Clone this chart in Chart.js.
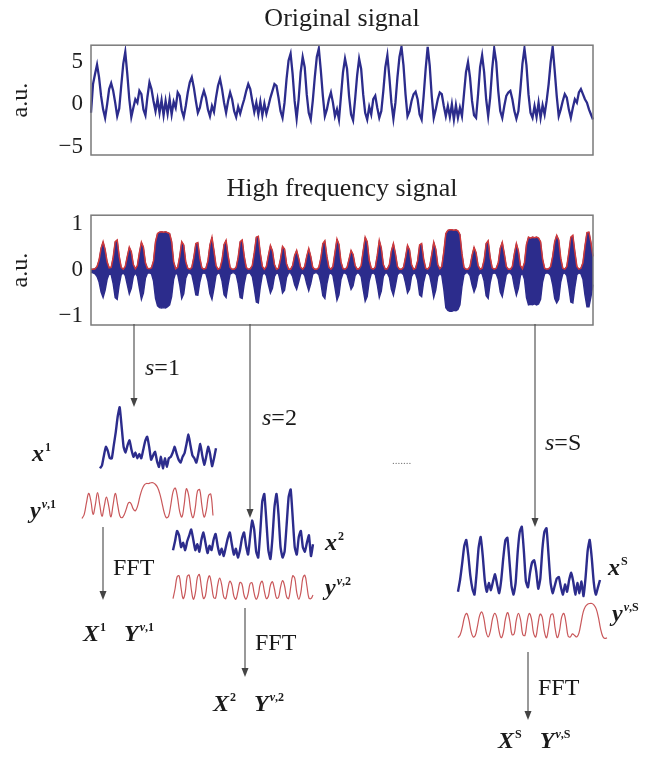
<!DOCTYPE html>
<html><head><meta charset="utf-8">
<script src="https://cdn.jsdelivr.net/npm/chart.js@4.4.1/dist/chart.umd.min.js"></script>
<style>
html,body{margin:0;padding:0;background:#fff;overflow:hidden;}
#root{position:relative;width:652px;height:760px;background:#fff;overflow:hidden;}
.box{position:absolute;}
.lbl{position:absolute;font-family:'Liberation Serif','Times New Roman',serif;color:#1a1a1a;white-space:nowrap;line-height:1;transform:translateY(-50%);font-size:24px;}
.m{font-weight:bold;font-style:italic;}
.lbl sup{font-size:12px;vertical-align:0;position:relative;top:-0.8em;margin-left:1px;font-weight:bold;}
.dots{position:absolute;font-family:'Liberation Serif',serif;font-size:11px;color:#777;transform:translateY(-50%);letter-spacing:0px;}
svg{position:absolute;left:0;top:0;}
</style></head><body>
<div id="root">
  <div class="box" style="left:0;top:0;width:652px;height:170px"><canvas id="c1"></canvas></div>
  <div class="box" style="left:0;top:170px;width:652px;height:170px"><canvas id="c2"></canvas></div>
  <div class="box" style="left:97px;top:402px;width:122px;height:78px"><canvas id="sx1"></canvas></div>
  <div class="box" style="left:79px;top:479px;width:137px;height:44px"><canvas id="sy1"></canvas></div>
  <div class="box" style="left:170px;top:485px;width:146px;height:80px"><canvas id="sx2"></canvas></div>
  <div class="box" style="left:170px;top:568px;width:146px;height:36px"><canvas id="sy2"></canvas></div>
  <div class="box" style="left:455px;top:523px;width:148px;height:79px"><canvas id="sxS"></canvas></div>
  <div class="box" style="left:455px;top:599px;width:155px;height:44px"><canvas id="syS"></canvas></div>

  <svg width="652" height="760" viewBox="0 0 652 760">
    <g stroke="#555" stroke-width="1.2">
      <line x1="134" y1="324" x2="134" y2="399"/>
      <line x1="250" y1="324" x2="250" y2="510"/>
      <line x1="535" y1="324" x2="535" y2="519"/>
      <line x1="103" y1="527" x2="103" y2="592"/>
      <line x1="245" y1="608" x2="245" y2="669"/>
      <line x1="528" y1="652" x2="528" y2="712"/>
    </g>
    <g fill="#444">
      <polygon points="130.5,398 137.5,398 134,407"/>
      <polygon points="246.5,509 253.5,509 250,518"/>
      <polygon points="531.5,518 538.5,518 535,527"/>
      <polygon points="99.5,591 106.5,591 103,600"/>
      <polygon points="241.5,668 248.5,668 245,677"/>
      <polygon points="524.5,711 531.5,711 528,720"/>
    </g>
  </svg>

  <div class="lbl" style="left:145px;top:367px"><i>s</i>=1</div>
  <div class="lbl" style="left:262px;top:417px"><i>s</i>=2</div>
  <div class="lbl" style="left:545px;top:442px"><i>s</i>=S</div>
  <div class="dots" style="left:392px;top:460px">.......</div>

  <div class="lbl" style="left:32px;top:453px"><span class="m">x</span><sup>1</sup></div>
  <div class="lbl" style="left:30px;top:510px"><span class="m">y</span><sup><i>v</i>,1</sup></div>
  <div class="lbl" style="left:325px;top:542px"><span class="m">x</span><sup>2</sup></div>
  <div class="lbl" style="left:325px;top:587px"><span class="m">y</span><sup><i>v</i>,2</sup></div>
  <div class="lbl" style="left:608px;top:567px"><span class="m">x</span><sup>S</sup></div>
  <div class="lbl" style="left:612px;top:613px"><span class="m">y</span><sup><i>v</i>,S</sup></div>

  <div class="lbl" style="left:113px;top:567px">FFT</div>
  <div class="lbl" style="left:255px;top:642px">FFT</div>
  <div class="lbl" style="left:538px;top:687px">FFT</div>

  <div class="lbl" style="left:83px;top:633px"><span class="m">X</span><sup>1</sup>&nbsp;&nbsp;&nbsp;<span class="m">Y</span><sup><i>v</i>,1</sup></div>
  <div class="lbl" style="left:213px;top:703px"><span class="m">X</span><sup>2</sup>&nbsp;&nbsp;&nbsp;<span class="m">Y</span><sup><i>v</i>,2</sup></div>
  <div class="lbl" style="left:498px;top:740px"><span class="m">X</span><sup>S</sup>&nbsp;&nbsp;&nbsp;<span class="m">Y</span><sup><i>v</i>,S</sup></div>
</div>
<script>
// ---------- data ----------
const originalTitle = 'Original signal';
const highFreqTitle = 'High frequency signal';
const yAxisLabel = 'a.u.';

const origTicks = [-5, 0, 5];
const origTickLabels = ['\u22125', '0', '5'];
const origRange = [-6, 7];

const hfTicks = [-1, 0, 1];
const hfTickLabels = ['\u22121', '0', '1'];
const hfRange = [-1.2, 1.2];

const originalSignal = [
 -1.0, 2.4, 3.6, 4.7, 3.2, 1.0, -0.6, -1.6, 0.0, 1.8,
 2.5, 1.6, 0.2, -1.4, -0.5, 2.2, 4.8, 6.2, 3.6, 0.6,
 -1.5, -0.4, 0.6, 0.2, 1.6, 1.2, -0.6, -1.3, 0.9, 2.6,
 1.8, 0.4, -0.8, 0.6, -1.0, 0.5, -1.3, 0.4, -1.1, 0.6,
 -1.2, 0.3, -0.4, 1.4, 1.0, -0.7, -1.5, -0.2, 1.4, 2.6,
 3.2, 2.0, 0.4, -1.0, -0.4, 0.8, 1.6, 0.8, -0.6, -1.4,
 -0.2, -0.9, 0.8, 2.2, 3.0, 1.8, 0.2, -1.0, 0.4, 1.4,
 0.6, -0.8, -1.5, -0.3, -1.1, -0.2, 0.6, 1.6, 2.4, 1.8,
 0.4, -0.9, 0.2, -1.2, 0.3, -1.3, 0.1, -1.1, -0.2, 0.8,
 1.6, 2.4, 2.2, 0.8, -0.8, -1.6, 0.2, 3.0, 5.2, 6.0,
 3.6, 0.4, -1.7, 0.6, 3.8, 5.6, 4.4, 1.2, -1.0, -1.8,
 0.4, 3.2, 5.6, 6.6, 4.0, 1.0, -1.4, -0.6, 0.6, 1.4,
 0.2, -1.4, -0.6, -1.8, 1.0, 3.8, 5.4, 4.2, 1.0, -1.2,
 -1.9, 0.6, 3.4, 5.4, 4.2, 1.2, -1.0, -1.8, -0.3, -1.2,
 0.6, 1.0, -0.4, -1.6, -0.8, 1.6, 4.4, 5.8, 3.2, 0.2,
 -1.7, 0.2, 3.2, 5.6, 6.8, 4.6, 1.2, -1.4, -0.8, 0.4,
 1.2, 1.5, 0.6, -1.2, -1.8, 1.0, 4.2, 6.8, 4.6, 1.0,
 -1.6, -0.6, 0.6, 1.4, 1.2, -0.2, -1.4, -0.2, -1.5, 0.0,
 -1.8, -0.1, -1.6, -0.4, -1.4, 1.2, 3.8, 5.0, 3.2, 0.4,
 -1.3, -1.6, 1.2, 4.4, 5.8, 3.8, 0.6, -1.4, 0.8, 4.2,
 6.6, 5.0, 1.6, -0.8, -1.6, -0.2, 1.0, 1.4, 1.6, 0.6,
 -0.8, -1.7, -0.8, 1.8, 4.8, 6.6, 4.6, 1.2, -1.0, -1.6,
 -0.2, -1.5, 0.2, -1.6, -0.1, -1.2, 0.4, 2.4, 5.0, 6.8,
 4.0, 1.0, -1.4, -0.6, 0.4, 1.2, 0.8, -0.6, -1.6, -0.4,
 0.6, 0.2, 1.4, 1.8, 1.2, 0.6, 0.2, -0.6, -1.2, -1.8
];

// red envelope (also the top edge of the blue high-frequency band)
const hfEnvelope = [
 0.02,0.02,0.03,0.08,0.22,0.48,0.62,0.45,0.18,0.05,
 0.06,0.28,0.62,0.66,0.30,0.06,0.02,0.08,0.30,0.50,
 0.40,0.12,0.03,0.10,0.38,0.61,0.50,0.16,0.04,0.03,
 0.05,0.20,0.62,0.80,0.83,0.84,0.83,0.84,0.82,0.80,
 0.62,0.18,0.03,0.06,0.30,0.62,0.55,0.18,0.04,0.02,
 0.06,0.28,0.58,0.60,0.26,0.05,0.02,0.04,0.20,0.55,
 0.72,0.42,0.10,0.02,0.04,0.22,0.56,0.65,0.32,0.06,
 0.02,0.02,0.06,0.28,0.62,0.66,0.30,0.06,0.02,0.03,
 0.10,0.38,0.72,0.74,0.36,0.08,0.02,0.08,0.32,0.54,
 0.42,0.12,0.02,0.04,0.24,0.52,0.46,0.14,0.02,0.02,
 0.10,0.32,0.43,0.26,0.06,0.02,0.08,0.30,0.47,0.30,
 0.06,0.02,0.02,0.06,0.26,0.58,0.64,0.30,0.06,0.02,
 0.08,0.38,0.68,0.56,0.18,0.03,0.02,0.06,0.24,0.43,
 0.34,0.10,0.02,0.03,0.10,0.42,0.72,0.62,0.22,0.04,
 0.02,0.06,0.32,0.65,0.48,0.12,0.02,0.03,0.12,0.42,
 0.58,0.36,0.08,0.02,0.02,0.06,0.28,0.54,0.44,0.12,
 0.02,0.04,0.20,0.55,0.58,0.24,0.04,0.02,0.08,0.34,
 0.61,0.46,0.12,0.03,0.08,0.40,0.80,0.87,0.88,0.88,
 0.87,0.88,0.86,0.78,0.36,0.06,0.02,0.02,0.08,0.32,
 0.50,0.38,0.10,0.02,0.04,0.22,0.58,0.64,0.28,0.05,
 0.02,0.04,0.16,0.48,0.61,0.36,0.08,0.02,0.02,0.08,
 0.36,0.58,0.42,0.10,0.03,0.16,0.56,0.72,0.70,0.72,
 0.71,0.72,0.70,0.62,0.24,0.04,0.02,0.03,0.08,0.30,
 0.62,0.76,0.66,0.26,0.04,0.02,0.08,0.38,0.72,0.76,
 0.40,0.08,0.02,0.04,0.16,0.52,0.82,0.83,0.60,0.30
];

// bottom edge of the blue high-frequency band
const hfLower = [
 -0.05,-0.06,-0.08,-0.14,-0.26,-0.48,-0.60,-0.44,-0.20,-0.08,
 -0.10,-0.30,-0.60,-0.64,-0.32,-0.10,-0.06,-0.12,-0.32,-0.52,
 -0.40,-0.14,-0.06,-0.14,-0.40,-0.64,-0.50,-0.18,-0.07,-0.06,
 -0.08,-0.24,-0.62,-0.78,-0.82,-0.83,-0.82,-0.83,-0.80,-0.76,
 -0.58,-0.20,-0.06,-0.10,-0.32,-0.62,-0.52,-0.18,-0.07,-0.06,
 -0.10,-0.30,-0.54,-0.55,-0.26,-0.08,-0.06,-0.08,-0.24,-0.52,
 -0.64,-0.40,-0.12,-0.06,-0.08,-0.24,-0.54,-0.60,-0.32,-0.09,
 -0.06,-0.06,-0.10,-0.30,-0.60,-0.62,-0.30,-0.09,-0.06,-0.07,
 -0.14,-0.40,-0.70,-0.72,-0.36,-0.10,-0.06,-0.12,-0.32,-0.50,
 -0.40,-0.14,-0.06,-0.08,-0.26,-0.50,-0.44,-0.16,-0.06,-0.06,
 -0.14,-0.32,-0.42,-0.26,-0.09,-0.06,-0.12,-0.30,-0.45,-0.30,
 -0.09,-0.06,-0.06,-0.10,-0.28,-0.56,-0.62,-0.30,-0.09,-0.06,
 -0.12,-0.38,-0.66,-0.54,-0.20,-0.07,-0.06,-0.10,-0.26,-0.42,
 -0.34,-0.12,-0.06,-0.07,-0.14,-0.42,-0.68,-0.58,-0.24,-0.08,
 -0.06,-0.10,-0.32,-0.60,-0.46,-0.14,-0.06,-0.07,-0.16,-0.42,
 -0.55,-0.34,-0.10,-0.06,-0.06,-0.10,-0.28,-0.50,-0.42,-0.14,
 -0.06,-0.08,-0.22,-0.54,-0.58,-0.26,-0.08,-0.06,-0.12,-0.34,
 -0.60,-0.44,-0.14,-0.07,-0.12,-0.42,-0.82,-0.88,-0.90,-0.90,
 -0.88,-0.89,-0.86,-0.76,-0.36,-0.10,-0.06,-0.06,-0.12,-0.32,
 -0.48,-0.36,-0.12,-0.06,-0.08,-0.24,-0.56,-0.62,-0.28,-0.08,
 -0.06,-0.08,-0.20,-0.48,-0.58,-0.34,-0.10,-0.06,-0.06,-0.12,
 -0.36,-0.55,-0.40,-0.12,-0.07,-0.20,-0.60,-0.76,-0.75,-0.76,
 -0.74,-0.76,-0.74,-0.64,-0.26,-0.08,-0.06,-0.07,-0.12,-0.32,
 -0.62,-0.72,-0.64,-0.26,-0.08,-0.06,-0.12,-0.38,-0.70,-0.72,
 -0.38,-0.10,-0.06,-0.08,-0.20,-0.54,-0.80,-0.80,-0.58,-0.32
];

// segments (relative units 0..10 inside each small panel)
const x1Segment = [
 1.2,1.6,3.0,4.2,3.6,2.6,2.6,4.4,6.2,8.4,
 9.7,7.0,4.2,3.4,4.4,5.1,3.8,2.8,3.4,2.6,
 3.2,2.6,3.8,5.0,5.6,4.2,2.4,3.0,3.5,2.2,
 1.4,2.8,1.2,2.6,1.4,2.6,2.8,3.4,4.2,3.2,
 2.4,2.0,2.8,3.3,4.6,5.9,4.4,3.0,2.6,2.0,
 3.2,4.6,3.0,1.7,2.8,4.2,3.2,1.5,2.6,4.0
];
const yv1Segment = [
 0.4,1.5,4.5,7.0,5.0,1.5,4.0,7.2,4.0,1.0,
 3.6,6.0,3.8,0.8,4.0,7.0,4.2,1.2,0.6,1.4,
 3.0,4.6,4.4,3.0,2.4,3.6,6.0,8.0,9.2,9.6,
 9.6,9.8,9.8,9.4,8.6,7.0,4.6,2.0,0.6,1.0,
 4.0,7.4,8.4,6.0,2.2,0.8,4.0,8.2,6.6,2.4,
 0.6,3.2,7.6,8.0,3.8,0.8,2.6,6.4,6.8,1.2
];
const x2Segment = [
 1.6,2.8,4.2,3.6,2.0,2.6,1.6,2.8,3.6,4.4,
 3.0,1.6,2.4,1.4,3.0,4.0,2.6,1.2,2.2,1.6,
 3.0,3.8,2.2,1.0,1.8,0.8,2.0,3.2,4.0,2.4,
 1.0,1.8,0.6,1.6,3.2,4.0,2.2,1.0,3.4,5.6,
 4.4,1.4,0.6,4.0,8.2,9.2,5.6,1.6,0.4,3.2,
 7.4,9.2,6.4,2.0,0.6,1.4,5.0,8.8,9.8,6.0,
 2.0,1.0,3.4,4.2,2.0,1.4,2.6,3.6,0.8,2.4
];
const yv2Segment = [
 0.8,4.0,8.0,8.4,4.2,0.8,2.8,8.2,8.6,4.0,
 0.6,2.6,7.8,8.8,4.6,0.8,1.8,6.6,8.4,5.4,
 1.2,1.0,5.2,7.6,5.4,1.4,0.8,4.0,6.6,5.4,
 1.6,0.6,3.2,6.2,5.6,2.0,0.6,2.4,5.8,6.0,
 2.6,0.6,2.0,5.6,6.6,3.4,0.8,1.6,5.2,6.4,
 4.0,1.0,1.2,4.6,6.8,5.0,1.4,0.8,4.6,8.4,
 7.6,2.8,0.6,2.8,7.6,8.6,5.0,1.0,0.8,2.0
];
const xSSegment = [
 1.0,2.6,4.8,7.2,8.1,6.0,3.2,1.4,0.6,3.4,
 7.0,8.5,6.0,2.6,1.0,2.2,1.2,2.4,3.4,2.0,
 0.8,2.6,5.6,8.0,8.4,5.2,1.8,0.6,2.2,6.4,
 9.2,9.9,6.6,2.4,1.6,3.6,5.0,5.3,3.8,1.4,
 2.8,6.8,9.2,9.7,6.0,2.2,0.8,1.8,2.8,3.0,
 1.6,0.6,2.0,1.0,2.6,3.6,2.4,0.6,2.2,0.8,
 2.4,0.4,3.0,6.6,8.1,5.6,2.2,0.6,1.6,2.6
];
const yvSSegment = [
 0.6,1.4,3.4,6.0,7.0,5.4,2.4,0.8,1.2,3.6,
 6.4,7.4,5.6,2.2,0.8,2.4,5.6,7.0,5.8,2.4,
 0.6,2.0,5.6,7.2,5.0,1.4,1.6,5.2,7.0,5.2,
 1.4,1.2,4.8,7.0,5.6,1.8,0.8,4.0,6.8,6.0,
 2.2,0.6,3.4,6.6,6.8,3.0,0.6,2.4,6.0,7.0,
 4.6,1.0,0.8,1.6,1.2,0.8,1.8,4.6,7.4,8.8,
 9.4,9.6,9.6,9.2,8.2,6.0,3.0,1.0,0.4,0.6
];

// ---------- drawing ----------
const SERIF = "'Liberation Serif', 'Times New Roman', serif";
const BLUE = '#2c2c8c';
const RED = '#d13a3a';
const PINK = '#c9575a';
const TEXT = '#1e1e1e';

const framePlugin = {
  id: 'frame',
  afterDatasetsDraw(chart) {
    const {ctx, chartArea: a} = chart;
    ctx.save();
    ctx.strokeStyle = '#7a7a7a';
    ctx.lineWidth = 1.5;
    ctx.strokeRect(a.left, a.top, a.right - a.left, a.bottom - a.top);
    ctx.restore();
  }
};

function mainChart(id, title, datasets, range, ticks, tickLabels) {
  return new Chart(document.getElementById(id), {
    type: 'line',
    data: { labels: datasets[0].data.map((_, i) => i), datasets },
    options: {
      responsive: true, maintainAspectRatio: false, animation: false, devicePixelRatio: 1,
      layout: { padding: { left: 0, right: 59, top: 0, bottom: 15 } },
      elements: { point: { radius: 0 }, line: { tension: 0 } },
      plugins: {
        legend: { display: false }, tooltip: { enabled: false },
        title: { display: true, text: title, fullSize: false, color: TEXT,
                 font: { family: SERIF, size: 26, weight: 'normal' }, padding: { top: 4, bottom: 10 } }
      },
      scales: {
        x: { display: false },
        y: {
          min: range[0], max: range[1],
          afterFit(s) { s.width = 91; s.paddingTop = 0; s.paddingBottom = 0; },
          afterBuildTicks(s) { s.ticks = ticks.map(v => ({ value: v })); },
          grid: { display: false, drawTicks: false }, border: { display: false },
          ticks: { padding: 8, color: TEXT, font: { family: SERIF, size: 23 },
                   callback: (v) => tickLabels[ticks.indexOf(v)] },
          title: { display: true, text: yAxisLabel, color: TEXT,
                   font: { family: SERIF, size: 24 }, padding: { top: 6, bottom: 0 } }
        }
      }
    },
    plugins: [framePlugin]
  });
}

mainChart('c1', originalTitle, [
  { data: originalSignal, borderColor: BLUE, borderWidth: 2.3, fill: false }
], origRange, origTicks, origTickLabels);

mainChart('c2', highFreqTitle, [
  { data: hfEnvelope, borderColor: RED, borderWidth: 1.5, fill: false, order: 0 },
  { data: hfEnvelope, borderColor: BLUE, borderWidth: 1, backgroundColor: BLUE, fill: '+1', order: 1 },
  { data: hfLower, borderColor: BLUE, borderWidth: 1.4, fill: false, order: 2 }
], hfRange, hfTicks, hfTickLabels);

function segment(id, data, color, width, tension) {
  return new Chart(document.getElementById(id), {
    type: 'line',
    data: { labels: data.map((_, i) => i),
            datasets: [{ data, borderColor: color, borderWidth: width, pointRadius: 0, tension, fill: false, clip: false }] },
    options: {
      responsive: true, maintainAspectRatio: false, animation: false, devicePixelRatio: 1,
      layout: { padding: 3 },
      plugins: { legend: { display: false }, tooltip: { enabled: false } },
      scales: { x: { display: false }, y: { display: false, min: 0, max: 10 } }
    }
  });
}

segment('sx1', x1Segment, BLUE, 2.4, 0.15);
segment('sy1', yv1Segment, PINK, 1.2, 0.4);
segment('sx2', x2Segment, BLUE, 2.4, 0.15);
segment('sy2', yv2Segment, PINK, 1.2, 0.4);
segment('sxS', xSSegment, BLUE, 2.4, 0.15);
segment('syS', yvSSegment, PINK, 1.2, 0.4);
</script>
</body></html>
